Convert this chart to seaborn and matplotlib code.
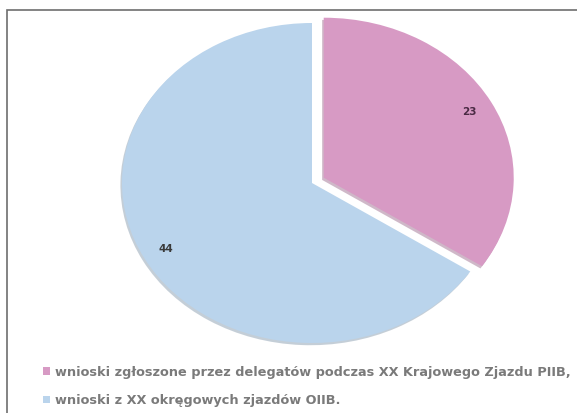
import matplotlib.pyplot as plt
import seaborn as sns
from matplotlib.patches import Rectangle

# data
labels = ['wnioski zgłoszone przez delegatów podczas XX Krajowego Zjazdu PIIB,',
          'wnioski z XX okręgowych zjazdów OIIB.']
values = [23, 44]
colors = ['#D79AC4', '#BAD4EC']

sns.set_style('white')
plt.rcParams['font.family'] = ['DejaVu Sans']

W, H = 577, 413
fig = plt.figure(figsize=(W / 100, H / 100), dpi=100)

# pie axes placed so radius = 190px horizontally, 160px vertically (ellipse)
rx, ry = 190, 160
cx, cy = 312, H - 183
lim = 1.3
ax = fig.add_axes([(cx - lim * rx) / W, (cy - lim * ry) / H,
                   2 * lim * rx / W, 2 * lim * ry / H])

total = sum(values)
wedges, texts, autotexts = ax.pie(
    values, colors=colors, startangle=90, counterclock=False,
    explode=[0.07, 0], autopct=lambda p: f'{round(p * total / 100)}',
    pctdistance=0.87, shadow={'ox': -0.006, 'oy': -0.01, 'shade': 0.25},
    wedgeprops={'linewidth': 0},
    textprops={'fontsize': 7.5, 'fontweight': 'bold', 'color': '#3a3a3a'})
autotexts[0].set_color('#4a2a44')
ax.set_aspect('auto')
ax.set_xlim(-lim, lim)
ax.set_ylim(-lim, lim)
ax.axis('off')

fig.legend(wedges, labels, loc='upper left',
           bbox_to_anchor=(31 / W, 1 - 354 / H), frameon=False,
           handlelength=0.55, handleheight=0.55, handletextpad=0.4,
           labelspacing=1.2, prop={'size': 9.3, 'weight': 'bold'},
           labelcolor='#7a7a7a')

# outer frame (left and top edges visible)
fig.patches.append(Rectangle((7 / W, -0.1), 1.2, (H - 10) / H + 0.1,
                             transform=fig.transFigure, fill=False,
                             edgecolor='#6e6e6e', linewidth=1.2))

fig.savefig('out.png', dpi=100)
